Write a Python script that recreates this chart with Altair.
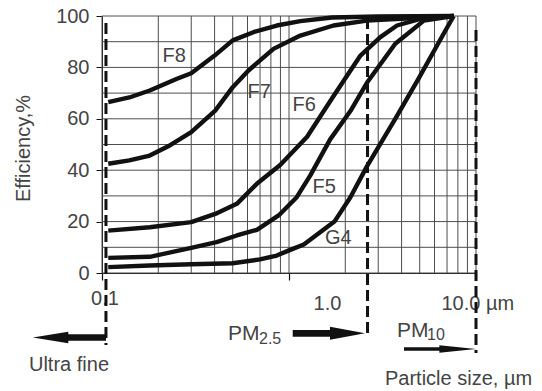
import altair as alt
import pandas as pd

# ---- data ----
curve_x = {
    "F8": [0.108, 0.14, 0.18, 0.25, 0.3, 0.4, 0.5, 0.65, 0.86, 1.15, 1.7, 3.0, 7.6],
    "F7": [0.108, 0.14, 0.18, 0.226, 0.3, 0.403, 0.5, 0.607, 0.826, 1.15, 1.73, 2.61, 7.6],
    "F6": [0.108, 0.18, 0.3, 0.403, 0.526, 0.673, 0.897, 1.25, 1.7, 2.41, 3.08, 3.78, 5.26, 7.6],
    "F5": [0.108, 0.18, 0.3, 0.41, 0.526, 0.673, 0.88, 1.1, 1.3, 1.66, 2.13, 2.61, 3.7, 5.26, 7.6],
    "G4": [0.108, 0.18, 0.3, 0.5, 0.7, 0.86, 1.0, 1.2, 1.75, 2.13, 2.61, 3.7, 4.93, 6.7, 7.6],
}
curve_y = {
    "F8": [66.5, 68.3, 71, 75.5, 77.7, 84.6, 90.5, 93.8, 96.3, 98, 99.4, 99.8, 100],
    "F7": [42.5, 43.8, 45.7, 49.3, 54.8, 63.2, 72.3, 78.8, 87.2, 92.4, 96.3, 98.2, 100],
    "F6": [16.5, 17.8, 19.8, 23, 26.9, 34.7, 42, 53, 68, 84.6, 91.8, 96.3, 99.3, 100],
    "F5": [5.9, 6.3, 9.8, 12, 14.6, 16.8, 22.4, 29.5, 38, 52, 63, 74, 89.2, 98.2, 100],
    "G4": [2.3, 2.9, 3.4, 3.8, 5.3, 6.8, 8.8, 11.1, 20, 29.5, 41.5, 60, 75.6, 93, 100],
}
label_names = ["F8", "F7", "F6", "F5", "G4"]
label_x = [0.243, 0.692, 1.206, 1.543, 1.834]
label_y = [84.6, 70.6, 65.2, 33.3, 13.8]

grid_x = [0.1, 0.2, 0.3, 0.4, 0.5, 0.6, 0.7, 0.8, 0.9, 1, 2, 3, 4, 5, 6, 7, 8, 9, 10]
grid_y = [0, 10, 20, 30, 40, 50, 60, 70, 80, 90, 100]
tick_x = [0.1, 1, 10]
tick_y = [0, 20, 40, 60, 80, 100]

# ---- layout ----
W, H = 374, 257
FONT = "Liberation Sans"
TXT = "#444444"
INK = "#111111"
GRID = "#4d4d4d"

xs = alt.Scale(type="log", domain=[0.1, 10], nice=False)
ys = alt.Scale(domain=[0, 100], nice=False)

rows = []
for name in curve_x:
    for xv, yv in zip(curve_x[name], curve_y[name]):
        rows.append({"filter": name, "size": xv, "eff": yv})
curves_df = pd.DataFrame(rows)

vgrid = alt.Chart(pd.DataFrame({"x": grid_x, "y0": 0, "y1": 100})).mark_rule(
    color=GRID, strokeWidth=1
).encode(
    x=alt.X("x:Q", scale=xs, axis=alt.Axis(values=tick_x, labels=False, grid=False, title=None,
                                          tickSize=7, tickColor=INK, domainColor=INK, tickWidth=1.2)),
    y=alt.Y("y0:Q", scale=ys, axis=alt.Axis(values=tick_y, grid=False, title="Efficiency,%",
                                           tickSize=6, tickColor=INK, domainColor=INK,
                                           labelPadding=7, labelFontSize=20, labelFont=FONT,
                                           labelColor=TXT, titleFontSize=20, titleFont=FONT,
                                           titleFontWeight="normal", titleColor=TXT,
                                           titlePadding=22, titleY=132)),
    y2="y1:Q",
)

hgrid = alt.Chart(pd.DataFrame({"y": grid_y, "x0": 0.1, "x1": 10})).mark_rule(
    color=GRID, strokeWidth=1
).encode(x=alt.X("x0:Q", scale=xs), x2="x1:Q", y=alt.Y("y:Q", scale=ys))

lines = alt.Chart(curves_df).mark_line(
    color=INK, strokeWidth=4.4, interpolate="linear", strokeJoin="round"
).encode(
    x=alt.X("size:Q", scale=xs),
    y=alt.Y("eff:Q", scale=ys),
    detail="filter:N",
    order="size:Q",
)

curve_labels = alt.Chart(pd.DataFrame({"t": label_names, "x": label_x, "y": label_y})).mark_text(
    font=FONT, fontSize=20, color=TXT, align="center", baseline="middle"
).encode(x=alt.X("x:Q", scale=xs), y=alt.Y("y:Q", scale=ys), text="t:N")

one = alt.Data(values=[{"a": 1}])

def txt(s, px, py, size=20, align="left"):
    return alt.Chart(one).mark_text(
        font=FONT, fontSize=size, color=TXT, align=align, baseline="alphabetic"
    ).encode(x=alt.value(px), y=alt.value(py), text=alt.value(s))

annotations = [
    txt("0.1", 3, 289, align="center"),
    txt("1.0", 225.5, 294, align="center"),
    txt("10.0 \u00b5m", 339.5, 294),
    txt("Ultra fine", -33, 355, align="center"),
    txt("PM", 126, 324, size=21),
    txt("2.5", 157, 328, size=16),
    txt("PM", 295, 321, size=21),
    txt("10", 325, 324, size=16),
    txt("Particle size, \u00b5m", 283, 369),
]

# dashed markers
dash_x = [0.105, 2.63, 10]
dash_top = [7, 2, 14]
dash_bot = [329, 322, 337]
dashes = [
    alt.Chart(pd.DataFrame({"x": [xv]})).mark_rule(
        color=INK, strokeWidth=3, strokeDash=[11, 5]
    ).encode(x=alt.X("x:Q", scale=xs), y=alt.value(t), y2=alt.value(b))
    for xv, t, b in zip(dash_x, dash_top, dash_bot)
]

def arrow(x0, x1, yv, width, head_x, head_size, path):
    shaft = alt.Chart(one).mark_rule(color=INK, strokeWidth=width, strokeCap="butt").encode(
        x=alt.value(x0), x2=alt.value(x1), y=alt.value(yv))
    head = alt.Chart(one).mark_point(
        shape=path, filled=True, color=INK, opacity=1, size=head_size, strokeWidth=0
    ).encode(x=alt.value(head_x), y=alt.value(yv))
    return shaft + head

arrows = [
    arrow(-37, 4, 321.5, 6.5, -51.5, 1267, "M -1 0 L 1 -0.33 L 1 0.33 Z"),
    arrow(190.7, 230, 317.3, 6.7, 245.5, 1225, "M 1 0 L -1 -0.37 L -1 0.37 Z"),
    arrow(302, 340, 333, 3.7, 355.7, 1347, "M 1 0 L -1 -0.2 L -1 0.2 Z"),
]

chart = alt.layer(
    vgrid, hgrid, lines, curve_labels, *annotations, *dashes, *arrows
).properties(
    width=W, height=H,
    autosize="none",
    padding={"left": 94, "top": 8, "right": 58, "bottom": 118},
    background="white",
).configure_view(stroke=None)

chart.save("out.html", embed_options={"renderer": "svg", "actions": False})
